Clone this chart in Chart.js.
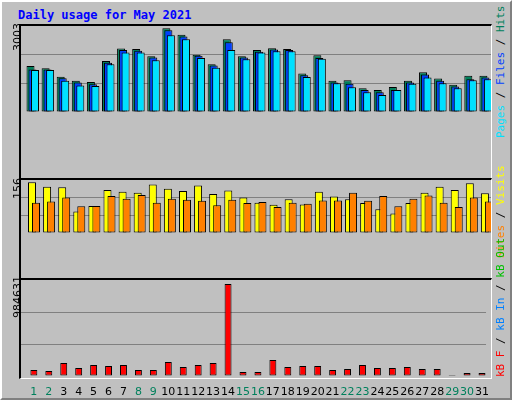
<!DOCTYPE html>
<html><head><meta charset="utf-8">
<script src="https://cdn.jsdelivr.net/npm/chart.js@4"></script>
<style>
body{margin:0;background:#C0C0C0;}
#frame{position:absolute;left:0;top:0;width:508px;height:396px;background:#C0C0C0;border-left:2px solid #fff;border-top:2px solid #fff;border-right:2px solid #808080;border-bottom:2px solid #808080;}
canvas{position:absolute;}
.pan{position:absolute;left:19px;width:470px;border-top:2px solid #000;border-left:2px solid #000;border-right:1px solid #fff;border-bottom:1px solid #fff;pointer-events:none;}
.t{position:absolute;font-family:"DejaVu Sans Mono",monospace;font-size:11px;white-space:nowrap;}
.rot{transform-origin:0 0;transform:rotate(-90deg);}
</style></head><body>
<div id="frame"></div>
<div class="t" style="left:18px;top:8px;color:#0000FF;font-weight:bold;font-size:12px;">Daily usage for May 2021</div>
<canvas id="c1" width="470" height="152" style="left:21px;top:26px"></canvas>
<canvas id="c2" width="470" height="97" style="left:21px;top:180px"></canvas>
<canvas id="c3" width="470" height="118" style="left:21px;top:280px"></canvas>
<div class="pan" style="top:24px;height:152px"></div>
<div class="pan" style="top:178px;height:99px"></div>
<div class="pan" style="top:278px;height:98px"></div>
<div class="t rot" style="left:11px;top:51px;font-family:'DejaVu Sans';">3003</div>
<div class="t rot" style="left:11px;top:199px;font-family:'DejaVu Sans';">156</div>
<div class="t rot" style="left:11px;top:318px;font-family:'DejaVu Sans';">984631</div>
<div class="t rot" style="left:494px;top:138px;"><span style="color:#00E0FF">Pages</span> / <span style="color:#0040FF">Files</span> / <span style="color:#00805C">Hits</span></div>
<div class="t rot" style="left:494px;top:258px;"><span style="color:#FF8000">Sites</span> / <span style="color:#FFFF00">Visits</span></div>
<div class="t rot" style="left:494px;top:377px;"><span style="color:#FF0000">kB F</span> / <span style="color:#0080FF">kB In</span> / <span style="color:#00C000">kB Out</span></div>
<script>
const days=[1,2,3,4,5,6,7,8,9,10,11,12,13,14,15,16,17,18,19,20,21,22,23,24,25,26,27,28,29,30,31];
const weekend=[1,2,8,9,15,16,22,23,29,30];
const hits=[1649,1567,1261,1117,1077,1833,2282,2262,1996,3003,2773,2057,1710,2609,1996,2221,2288,2262,1383,2037,1117,1138,852,791,893,1117,1424,1199,975,1301,1301];
const files=[1525,1525,1212,1056,994,1771,2220,2200,1954,2935,2710,2016,1668,2506,1954,2159,2240,2220,1321,1934,1056,1015,790,708,790,1056,1342,1117,912,1178,1239];
const pages=[1505,1505,1117,953,933,1709,2138,2138,1852,2751,2608,1934,1587,2220,1893,2138,2179,2179,1260,1914,1035,892,708,606,790,1015,1239,1035,851,1137,1178];
const visits=[156,142,141,66,83,132,127,124,149,136,129,146,120,131,109,93,87,104,88,127,112,104,92,73,60,92,124,142,132,153,122];
const sites=[93,97,109,82,83,114,105,117,93,105,102,99,85,102,92,95,80,93,90,100,100,124,99,114,82,105,115,93,80,109,97];
const kbF=[64000,53500,139000,85400,118000,107000,118000,64000,64000,149600,96000,118000,139000,984631,42600,42600,171000,96000,107000,107000,64000,75000,118000,85400,85400,96000,75000,75000,12000,32000,32000];
const maxes=[3085,163,1027000];
const xMin=0.139,xMax=31.27,PX=15.1;
function pts(a){return a.map((v,i)=>({x:days[i],y:v}));}
function ds(a,c,axis,w){return {data:pts(a),xAxisID:axis,backgroundColor:c,borderColor:'#000',borderWidth:1,borderSkipped:false,categoryPercentage:1,barPercentage:w/PX,grouped:false};}
function xax(shift,show){return {type:'linear',min:xMin-shift/PX,max:xMax-shift/PX,offset:false,display:show,
   grid:{display:false},border:{display:false},afterFit:s=>{s.height=22;},
   ticks:{stepSize:1,autoSkip:false,includeBounds:false,maxRotation:0,padding:2,
     font:{family:'DejaVu Sans',size:11},
     callback:v=>Number.isInteger(v)&&v>=1&&v<=31?String(v):'',
     color:c=>weekend.includes(c.tick&&c.tick.value)?'#00805C':'#000'}};}
function mk(id,sets,max,xs){
  const scales={y:{min:0,max:max,afterFit:s=>{s.width=0;},ticks:{display:false,stepSize:max/3},
       border:{display:false},
       grid:{color:c=>(c.index===1||c.index===2)?'#808080':'rgba(0,0,0,0)',lineWidth:1,drawTicks:false}}};
  Object.assign(scales,xs);
  new Chart(document.getElementById(id),{type:'bar',data:{datasets:sets},
  options:{responsive:false,animation:false,devicePixelRatio:1,layout:{padding:0},
   plugins:{legend:{display:false},tooltip:{enabled:false}},scales:scales}});
}
mk('c1',[ds(pages,'#00E0FF','xp',8),ds(files,'#0040FF','xf',8),ds(hits,'#00805C','xh',8)],maxes[0],
   {xh:xax(-3.5,false),xf:xax(-1.5,false),xp:xax(1,false)});
mk('c2',[ds(sites,'#FF8000','xs',8),ds(visits,'#FFFF00','xv',8)],maxes[1],
   {xv:xax(-2,false),xs:xax(2,false)});
mk('c3',[ds(kbF,'#FF0000','x',7)],maxes[2],{x:xax(0,true)});
</script></body></html>
